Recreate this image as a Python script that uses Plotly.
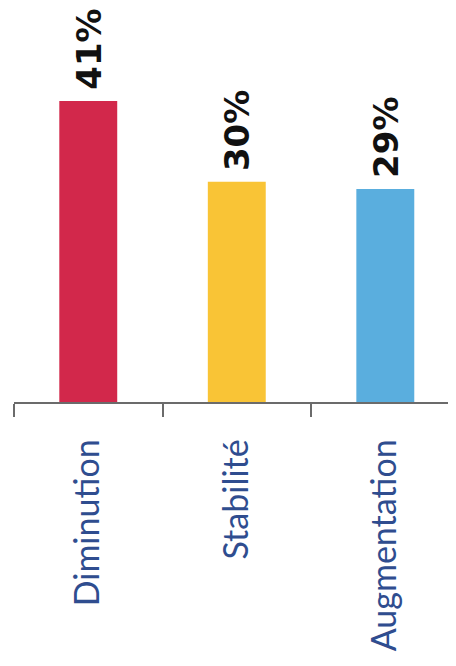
import plotly.graph_objects as go

categories = ["Diminution", "Stabilité", "Augmentation"]
values = [41, 30, 29]
labels = ["41%", "30%", "29%"]
colors = ["#d2284b", "#f9c436", "#5aaede"]

fig = go.Figure(go.Bar(
    x=categories, y=values,
    marker=dict(color=colors, line=dict(width=0)),
    width=0.39,
))

for c, v, t in zip(categories, values, labels):
    fig.add_annotation(
        x=c, y=v, text=t, textangle=-90, showarrow=False,
        xanchor="center", yanchor="bottom", yshift=9,
        font=dict(family="DejaVu Sans", size=34, color="#111111", weight="bold"),
    )

fig.update_layout(
    width=448, height=658,
    margin=dict(l=6, r=0, t=0, b=264, autoexpand=False),
    paper_bgcolor="white", plot_bgcolor="white",
    showlegend=False,
    xaxis=dict(
        range=[-0.5, 2.476], tickson="boundaries", automargin=False,
        showline=True, linecolor="#6b6b6b", linewidth=1.5,
        ticks="outside", ticklen=13, tickcolor="#6b6b6b", tickwidth=1.5,
        tickangle=-90, ticklabelstandoff=22,
        tickfont=dict(family="Lato", size=34, color="#2f4d8f"),
        showgrid=False, zeroline=False,
    ),
    yaxis=dict(range=[0, 53.67], visible=False, automargin=False,
               showgrid=False, zeroline=False),
)

fig.write_html("out.html")
